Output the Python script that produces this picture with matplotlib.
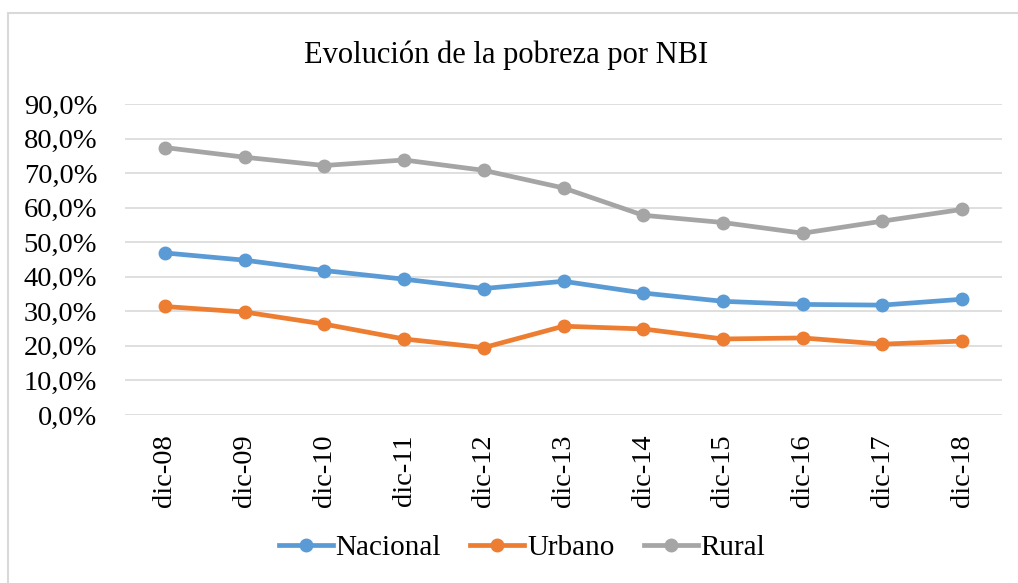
import matplotlib
matplotlib.use('Agg')
import matplotlib.pyplot as plt
from matplotlib.patches import Rectangle

plt.rcParams['font.family'] = ['Liberation Serif', 'DejaVu Serif']

meses = ['dic-08', 'dic-09', 'dic-10', 'dic-11', 'dic-12', 'dic-13',
         'dic-14', 'dic-15', 'dic-16', 'dic-17', 'dic-18']
nacional = [46.9, 44.8, 41.8, 39.3, 36.6, 38.7, 35.3, 32.9, 32.0, 31.8, 33.5]
urbano = [31.4, 29.8, 26.3, 22.0, 19.5, 25.7, 24.9, 22.0, 22.3, 20.5, 21.4]
rural = [77.4, 74.6, 72.2, 73.8, 70.8, 65.7, 57.8, 55.7, 52.6, 56.1, 59.5]
y_ticks = [0, 10, 20, 30, 40, 50, 60, 70, 80, 90]
y_labels = ['0,0%', '10,0%', '20,0%', '30,0%', '40,0%', '50,0%',
            '60,0%', '70,0%', '80,0%', '90,0%']

fig = plt.figure(figsize=(10.18, 5.83), dpi=100)
ax = fig.add_axes([125/1018, 1-415/583, 877/1018, 311/583])

x = list(range(len(meses)))
ax.plot(x, nacional, color='#5B9BD5', lw=3.4, marker='o', ms=9, label='Nacional')
ax.plot(x, urbano, color='#ED7D31', lw=3.4, marker='o', ms=9, label='Urbano')
ax.plot(x, rural, color='#A5A5A5', lw=3.4, marker='o', ms=9, label='Rural')

ax.set_xlim(-0.5, len(meses)-0.5)
ax.set_ylim(0, 90)
ax.set_yticks(y_ticks)
ax.set_yticklabels(y_labels)
ax.set_xticks(x)
ax.set_xticklabels(meses, rotation=90)
ax.tick_params(axis='both', length=0, labelsize=20.5)
ax.tick_params(axis='x', pad=14)
ax.tick_params(axis='y', pad=20)
ax.grid(axis='y', color='#D9D9D9', lw=1.2)
ax.set_axisbelow(True)
for s in ax.spines.values():
    s.set_visible(False)

fig.text(0.497, 1-55/583, 'Evolución de la pobreza por NBI', ha='center', va='center', fontsize=22)

fig.legend(loc='center', bbox_to_anchor=(522/1018, 1-548/583), ncol=3, frameon=False,
           fontsize=21, handlelength=1.85, handletextpad=0.1, columnspacing=1.0)

# borde del grafico
fig.patches.append(Rectangle((8/1018, -0.1), 1.1, 1.1-13/583, transform=fig.transFigure,
                             fill=False, edgecolor='#D9D9D9', lw=1.5))

fig.savefig('out.png', dpi=100)
